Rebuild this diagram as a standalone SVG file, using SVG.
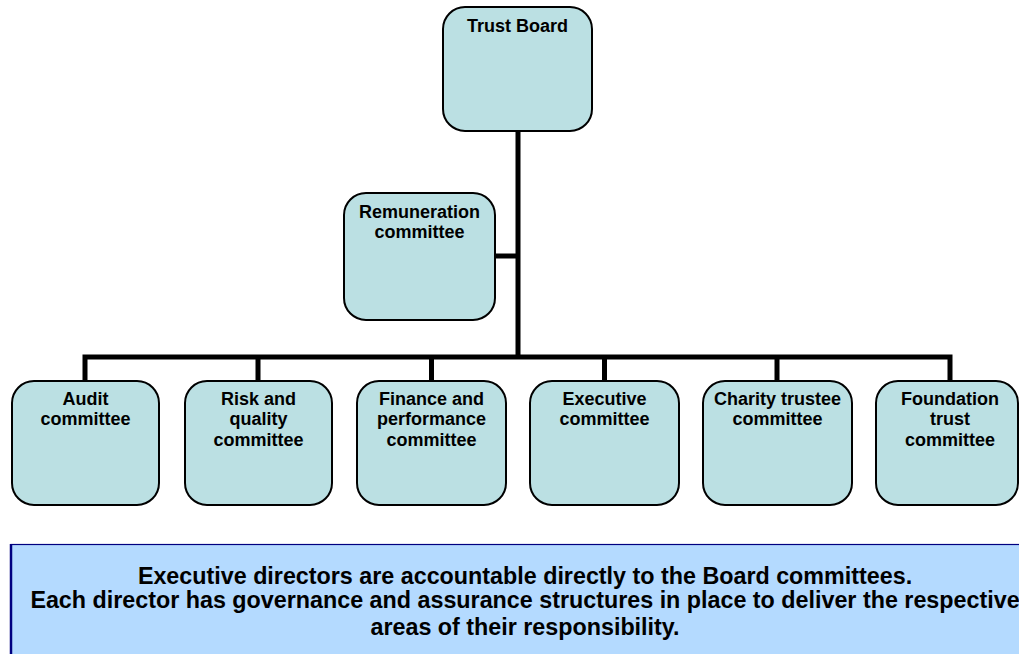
<svg xmlns="http://www.w3.org/2000/svg" width="1019" height="654" viewBox="0 0 1019 654">
<style>
.box{fill:#BBE0E3;stroke:#000;stroke-width:2}
.t{font-family:"Liberation Sans",Arial,sans-serif;font-weight:bold;font-size:18px;fill:#000;text-anchor:middle}
.n{font-family:"Liberation Sans",Arial,sans-serif;font-weight:bold;font-size:23.3px;fill:#000;text-anchor:middle}
.c{fill:none;stroke:#000;stroke-width:5}
</style>
<rect width="1019" height="654" fill="#fff"/>
<g id="connectors">
<path class="c" d="M518 131 V357"/>
<path class="c" d="M495 256 H518"/>
<path class="c" d="M85 381 V357 H950 V381"/>
<path class="c" d="M258 357 V381 M431.5 357 V381 M604.5 357 V381 M777 357 V381"/>
</g>
<g id="trust-board"><rect class="box" x="443" y="7" width="149" height="124" rx="22"/><text class="t" x="517.5" y="32">Trust Board</text></g>
<g id="remuneration"><rect class="box" x="344" y="193" width="151" height="127" rx="22"/><text class="t" x="419.5" y="218">Remuneration</text><text class="t" x="419.5" y="238">committee</text></g>
<g id="audit"><rect class="box" x="12" y="381" width="147" height="124" rx="22"/><text class="t" x="85.5" y="405">Audit</text><text class="t" x="85.5" y="425">committee</text></g>
<g id="risk"><rect class="box" x="185" y="381" width="147" height="124" rx="22"/><text class="t" x="258.5" y="405">Risk and</text><text class="t" x="258.5" y="425">quality</text><text class="t" x="258.5" y="446">committee</text></g>
<g id="finance"><rect class="box" x="357" y="381" width="149" height="124" rx="22"/><text class="t" x="431.5" y="405">Finance and</text><text class="t" x="431.5" y="425">performance</text><text class="t" x="431.5" y="446">committee</text></g>
<g id="executive"><rect class="box" x="530" y="381" width="149" height="124" rx="22"/><text class="t" x="604.5" y="405">Executive</text><text class="t" x="604.5" y="425">committee</text></g>
<g id="charity"><rect class="box" x="703" y="381" width="149" height="124" rx="22"/><text class="t" x="777.5" y="405">Charity trustee</text><text class="t" x="777.5" y="425">committee</text></g>
<g id="foundation"><rect class="box" x="876" y="381" width="142" height="124" rx="22"/><text class="t" x="950" y="405">Foundation</text><text class="t" x="950" y="425">trust</text><text class="t" x="950" y="446">committee</text></g>
<g id="note">
<rect x="11" y="544.5" width="1030" height="120" fill="#B4DAFF" stroke="#000080" stroke-width="1.2"/>
<line x1="11" y1="544" x2="11" y2="654" stroke="#000080" stroke-width="2.5"/>
<text class="n" x="525" y="584">Executive directors are accountable directly to the Board committees.</text>
<text class="n" x="525" y="608">Each director has governance and assurance structures in place to deliver the respective</text>
<text class="n" x="525" y="635">areas of their responsibility.</text>
</g>
</svg>
